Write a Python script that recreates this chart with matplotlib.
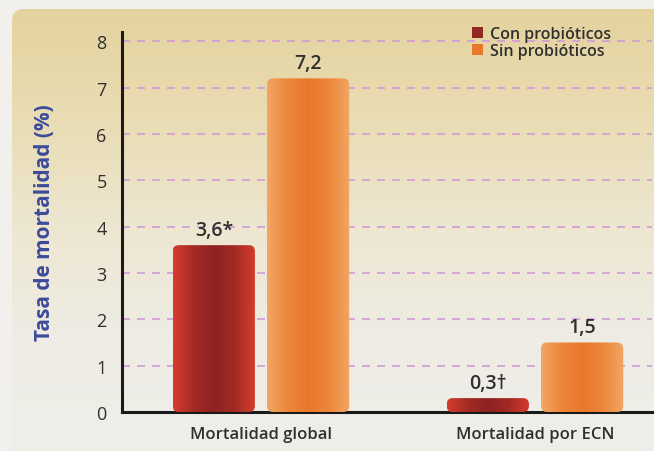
import numpy as np
import matplotlib.pyplot as plt
from matplotlib.patches import FancyBboxPatch, Patch
from matplotlib.colors import LinearSegmentedColormap

plt.rcParams['font.family'] = ['Open Sans', 'DejaVu Sans']

# data
groups = ['Mortalidad global', 'Mortalidad por ECN']
series = ['Con probióticos', 'Sin probióticos']
con_vals = [3.6, 0.3]
sin_vals = [7.2, 1.5]
con_labels = ['3,6*', '0,3†']
sin_labels = ['7,2', '1,5']
yticks = [0, 1, 2, 3, 4, 5, 6, 7, 8]

red_cmap = LinearSegmentedColormap.from_list('red', ['#d43d2d', '#a32a24', '#8d2222', '#a32a24', '#d43d2d'])
orange_cmap = LinearSegmentedColormap.from_list('orange', ['#f2a663', '#ec8639', '#e8772b', '#ec8639', '#f2a663'])
text_col = '#2f2f2f'

fig = plt.figure(figsize=(6.54, 4.52), dpi=100, facecolor='#f1f0ec')

# background panel with a vertical tan-to-grey fade
bg = fig.add_axes([0, 0, 1, 1], zorder=-5)
bg.set_xlim(0, 654)
bg.set_ylim(452, 0)
bg.axis('off')
fade = LinearSegmentedColormap.from_list('fade', ['#e4d29d', '#e9dcb2', '#ede6d0', '#eeece4', '#efeee9'])
grad = np.linspace(0, 1, 256).reshape(-1, 1)
img = bg.imshow(grad, cmap=fade, extent=[0, 654, 452, 0], aspect='auto')
panel = FancyBboxPatch((12, 10), 660, 460, boxstyle='round,pad=0,rounding_size=12',
                       transform=bg.transData, facecolor='none', edgecolor='none')
bg.add_patch(panel)
img.set_clip_path(panel)

ax = fig.add_axes([122 / 654, 39 / 452, 530 / 654, 380 / 452])
ax.set_facecolor('none')
ax.set_xlim(-0.507, 1.427)
ax.set_ylim(0, 8.2)

x = np.arange(len(groups))
width = 0.3
off = 0.172

b1 = ax.bar(x - off, con_vals, width, color='none', label=series[0])
b2 = ax.bar(x + off, sin_vals, width, color='none', label=series[1])

# replace plain bars with rounded, shaded ones
fig.canvas.draw()
p0 = ax.transData.transform((0, 0))
p1 = ax.transData.transform((1, 1))
aspect = (p1[0] - p0[0]) / (p1[1] - p0[1])
rad = 6 / (p1[0] - p0[0])
shade = np.linspace(0, 1, 64).reshape(1, -1)
for bars, cmap in [(b1, red_cmap), (b2, orange_cmap)]:
    for r in bars:
        bx, by = r.get_x(), r.get_y()
        bw, bh = r.get_width(), r.get_height()
        fb = FancyBboxPatch((bx, by), bw, bh,
                            boxstyle='round,pad=0,rounding_size=%f' % rad,
                            mutation_aspect=aspect,
                            facecolor='none', edgecolor='none', zorder=3)
        ax.add_patch(fb)
        im = ax.imshow(shade, cmap=cmap, extent=[bx, bx + bw, by, by + bh],
                       aspect='auto', zorder=3)
        im.set_clip_path(fb)

ax.set_xlim(-0.507, 1.427)
ax.set_ylim(0, 8.2)

for bars, labels in [(b1, con_labels), (b2, sin_labels)]:
    for r, lab in zip(bars, labels):
        ax.annotate(lab, (r.get_x() + r.get_width() / 2, r.get_height()),
                    xytext=(0, 4), textcoords='offset points', ha='center', va='bottom',
                    fontsize=14, fontweight='semibold', color=text_col)

# dashed grid
for y in yticks[1:]:
    ax.axhline(y, color='#d39ad6', lw=1.2, dashes=(4.8, 4.2), zorder=1)

ax.set_yticks(yticks)
ax.set_yticklabels([str(v) for v in yticks], fontsize=13, fontweight='medium', color=text_col)
ax.set_xticks(x)
ax.set_xticklabels(groups, fontsize=12, fontweight='semibold', color=text_col)
ax.tick_params(axis='both', length=0)
ax.tick_params(axis='y', pad=11)
ax.tick_params(axis='x', pad=10)

for s in ['top', 'right']:
    ax.spines[s].set_visible(False)
for s in ['left', 'bottom']:
    ax.spines[s].set_linewidth(2.2)
    ax.spines[s].set_color('#1a1a1a')

ax.set_ylabel('Tasa de mortalidad (%)', fontsize=15, fontweight='bold', color='#3c4b9a', labelpad=30)

handles = [Patch(facecolor='#8f2a24'), Patch(facecolor='#e9782c')]
fig.legend(handles, series, loc='upper left', bbox_to_anchor=(472 / 654, 1 - 27 / 452),
           frameon=False, prop={'size': 11.5, 'weight': 'semibold'},
           handlelength=0.7, handleheight=0.7, handletextpad=0.4,
           labelspacing=0.05, borderaxespad=0, borderpad=0)
for t in fig.legends[0].get_texts():
    t.set_color(text_col)

fig.savefig('out.png', dpi=100, facecolor=fig.get_facecolor())
